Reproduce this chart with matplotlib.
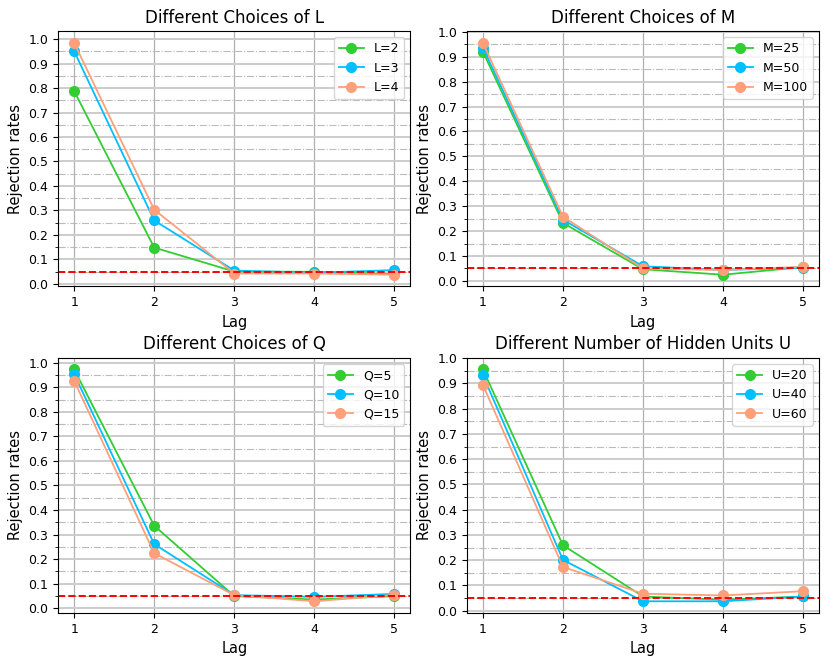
import numpy as np
import matplotlib
matplotlib.use("Agg")
import matplotlib.pyplot as plt
from matplotlib.ticker import MultipleLocator

lags = [1, 2, 3, 4, 5]

# Different choices of L
L2 = [0.788, 0.148, 0.050, 0.049, 0.040]
L3 = [0.951, 0.259, 0.054, 0.045, 0.056]
L4 = [0.985, 0.303, 0.042, 0.042, 0.037]

# Different choices of M
M25 = [0.921, 0.233, 0.047, 0.025, 0.056]
M50 = [0.937, 0.246, 0.059, 0.044, 0.053]
M100 = [0.956, 0.258, 0.050, 0.044, 0.057]

# Different choices of Q
Q5 = [0.973, 0.336, 0.049, 0.035, 0.049]
Q10 = [0.954, 0.261, 0.053, 0.046, 0.058]
Q15 = [0.927, 0.224, 0.053, 0.028, 0.054]

# Different number of hidden units U
U20 = [0.956, 0.259, 0.056, 0.043, 0.056]
U40 = [0.933, 0.201, 0.037, 0.037, 0.056]
U60 = [0.895, 0.173, 0.067, 0.060, 0.077]

panels = [
    ("Different Choices of L", [L2, L3, L4], ["L=2", "L=3", "L=4"]),
    ("Different Choices of M", [M25, M50, M100], ["M=25", "M=50", "M=100"]),
    ("Different Choices of Q", [Q5, Q10, Q15], ["Q=5", "Q=10", "Q=15"]),
    ("Different Number of Hidden Units U", [U20, U40, U60], ["U=20", "U=40", "U=60"]),
]
colors = ["limegreen", "deepskyblue", "lightsalmon"]

fig, axes = plt.subplots(2, 2, figsize=(8.3, 6.64), dpi=100)
fig.subplots_adjust(left=0.07, right=0.987, top=0.953, bottom=0.077,
                    wspace=0.16, hspace=0.28)

for ax, (title, series, labels) in zip(axes.flat, panels):
    for vals, lab, c in zip(series, labels, colors):
        ax.plot(lags, vals, "-o", color=c, label=lab, lw=1.3, ms=7)
    ax.axhline(0.05, color="red", ls="--", lw=1.4)
    ax.set_title(title, fontsize=12)
    ax.set_xlabel("Lag", fontsize=10.5)
    ax.set_ylabel("Rejection rates", fontsize=10.5)
    ax.set_xticks(lags)
    ax.yaxis.set_major_locator(MultipleLocator(0.1))
    ax.yaxis.set_minor_locator(MultipleLocator(0.05))
    ax.tick_params(labelsize=9)
    ax.grid(True, which="major", axis="x", color="#b0b0b0", lw=0.9)
    ax.grid(True, which="major", axis="y", color="#cccccc", lw=1.4)
    ax.grid(True, which="minor", axis="y", color="#bbbbbb", ls="-.", lw=0.8)
    ax.set_axisbelow(True)
    ax.legend(loc="upper right", fontsize=9)
    lo, hi = ax.get_ylim()
    if hi > 0.999:
        ax.set_ylim(lo, max(hi, 1.0))

fig.savefig("out.png", dpi=100)
